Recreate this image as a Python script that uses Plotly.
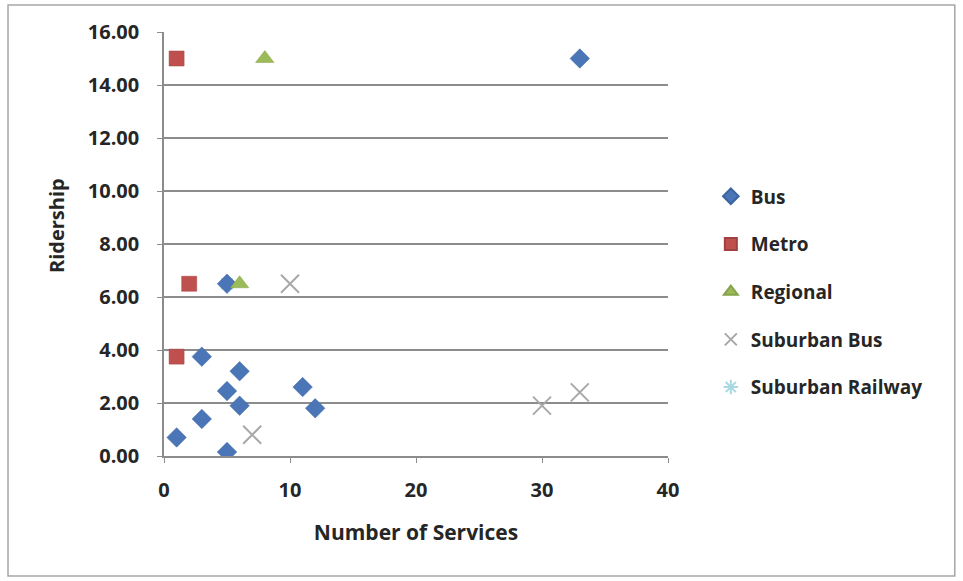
import plotly.graph_objects as go

# Ridership vs. number of services, by transport mode
bus_services = [1, 3, 3, 5, 5, 6, 6, 5, 11, 12, 33]
bus_ridership = [0.7, 1.4, 3.75, 0.15, 2.45, 1.9, 3.2, 6.5, 2.6, 1.8, 15.0]

metro_services = [1, 2, 1]
metro_ridership = [15.0, 6.5, 3.75]

regional_services = [8, 6]
regional_ridership = [15.0, 6.5]

suburban_bus_services = [10, 7, 30, 33]
suburban_bus_ridership = [6.5, 0.8, 1.9, 2.4]

suburban_rail_services = [5]
suburban_rail_ridership = [6.5]

x_ticks = [0, 10, 20, 30, 40]
y_ticks = [0, 2, 4, 6, 8, 10, 12, 14, 16]
y_tick_text = [f"{v:.2f}" for v in y_ticks]

FONT = "Open Sans"
TXT = "#262626"
AXIS = "#8C8C8C"

fig = go.Figure()

# railway series sits underneath the bus diamonds; legend order kept by rank
fig.add_trace(go.Scatter(
    x=suburban_rail_services, y=suburban_rail_ridership, mode="markers",
    name="Suburban Railway", legendgroup="e", legendrank=5,
    marker=dict(symbol="asterisk-open", size=13, color="#A9D8E3",
                line=dict(width=1.5, color="#A9D8E3")),
))
fig.add_trace(go.Scatter(
    x=bus_services, y=bus_ridership, mode="markers", name="Bus",
    legendgroup="a", legendrank=1,
    marker=dict(symbol="diamond", size=15, color="#4A76B8",
                line=dict(width=0.5, color="#3C64A0")),
))
fig.add_trace(go.Scatter(
    x=metro_services, y=metro_ridership, mode="markers", name="Metro",
    legendgroup="b", legendrank=2,
    marker=dict(symbol="square", size=15, color="#C0504D",
                line=dict(width=0.5, color="#A04040")),
))
fig.add_trace(go.Scatter(
    x=regional_services, y=regional_ridership, mode="markers", name="Regional",
    legendgroup="c", legendrank=3,
    marker=dict(symbol="triangle-up", size=16, color="#9BBB59",
                line=dict(width=0.5, color="#86A24A")),
))
fig.add_trace(go.Scatter(
    x=suburban_bus_services, y=suburban_bus_ridership, mode="markers",
    name="Suburban Bus", legendgroup="d", legendrank=4,
    marker=dict(symbol="x-thin-open", size=18, color="#A8A8A8",
                line=dict(width=2, color="#A8A8A8")),
))

fig.update_layout(
    width=963, height=581,
    margin=dict(l=164, r=295, t=32, b=125),
    paper_bgcolor="white", plot_bgcolor="white",
    font=dict(family=FONT, color=TXT, size=18),
    showlegend=True,
    legend=dict(
        x=1.085, y=0.387, xanchor="left", yanchor="middle",
        font=dict(family=FONT, size=19, color=TXT, weight="bold"),
        tracegroupgap=20, itemsizing="constant",
        bgcolor="rgba(0,0,0,0)",
    ),
    xaxis=dict(
        range=[0, 40], tickvals=x_ticks, ticktext=[str(v) for v in x_ticks],
        showgrid=False, zeroline=False,
        showline=True, linecolor=AXIS, linewidth=1.5,
        ticks="outside", ticklen=5, tickcolor=AXIS,
        ticklabelstandoff=10,
        tickfont=dict(family=FONT, size=20, color=TXT, weight="bold"),
        title=dict(text="Number of Services", standoff=24,
                   font=dict(family=FONT, size=21, color=TXT, weight="bold")),
    ),
    yaxis=dict(
        range=[0, 16], tickvals=y_ticks, ticktext=y_tick_text,
        showgrid=True, gridcolor=AXIS, gridwidth=1.5,
        zeroline=False,
        showline=True, linecolor=AXIS, linewidth=1.5,
        ticks="outside", ticklen=5, tickcolor=AXIS,
        ticklabelstandoff=14,
        tickfont=dict(family=FONT, size=20, color=TXT, weight="bold"),
    ),
    annotations=[dict(
        text="Ridership", xref="paper", yref="paper",
        x=(57 - 164) / 504, y=(456 - 226) / 424,
        xanchor="center", yanchor="middle", textangle=-90, showarrow=False,
        font=dict(family=FONT, size=20, color=TXT, weight="bold"),
    )],
    shapes=[dict(
        type="rect", xref="paper", yref="paper",
        x0=-0.3095, x1=1.569, y0=-0.283, y1=1.0637,
        line=dict(color="#A6A6A6", width=1.5), fillcolor="rgba(0,0,0,0)",
        layer="below",
    )],
)

fig.write_html("out.html")
